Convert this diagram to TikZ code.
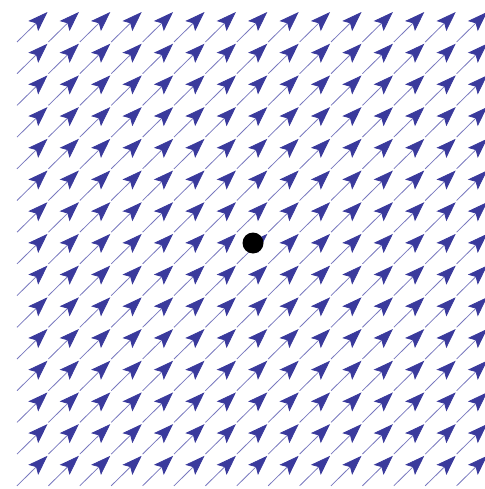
\documentclass[tikz,border=0pt]{standalone}
\usetikzlibrary{arrows.meta}
\definecolor{fieldblue}{RGB}{58,58,156}
\definecolor{shaftblue}{RGB}{120,120,190}
\tikzset{
  fieldarrow/.style={draw=shaftblue, line width=0.8pt,
    -{Stealth[length=20pt,width=14pt,inset=4pt,fill=fieldblue,color=fieldblue]}},
  centerdot/.style={circle, fill=black, inner sep=0pt, minimum size=21pt}
}
\begin{document}
\begin{tikzpicture}[x=1pt,y=-1pt]
\useasboundingbox (0,0) rectangle (484,489);
\foreach \i in {0,...,14}{
  \foreach \j in {0,...,14}{
    \draw[fieldarrow] ({17+31.4*\i},{42+31.7*\j}) -- ++(30.5,-30);
  }
}
\node[centerdot] (p) at (253,243) {};
\end{tikzpicture}
\end{document}
